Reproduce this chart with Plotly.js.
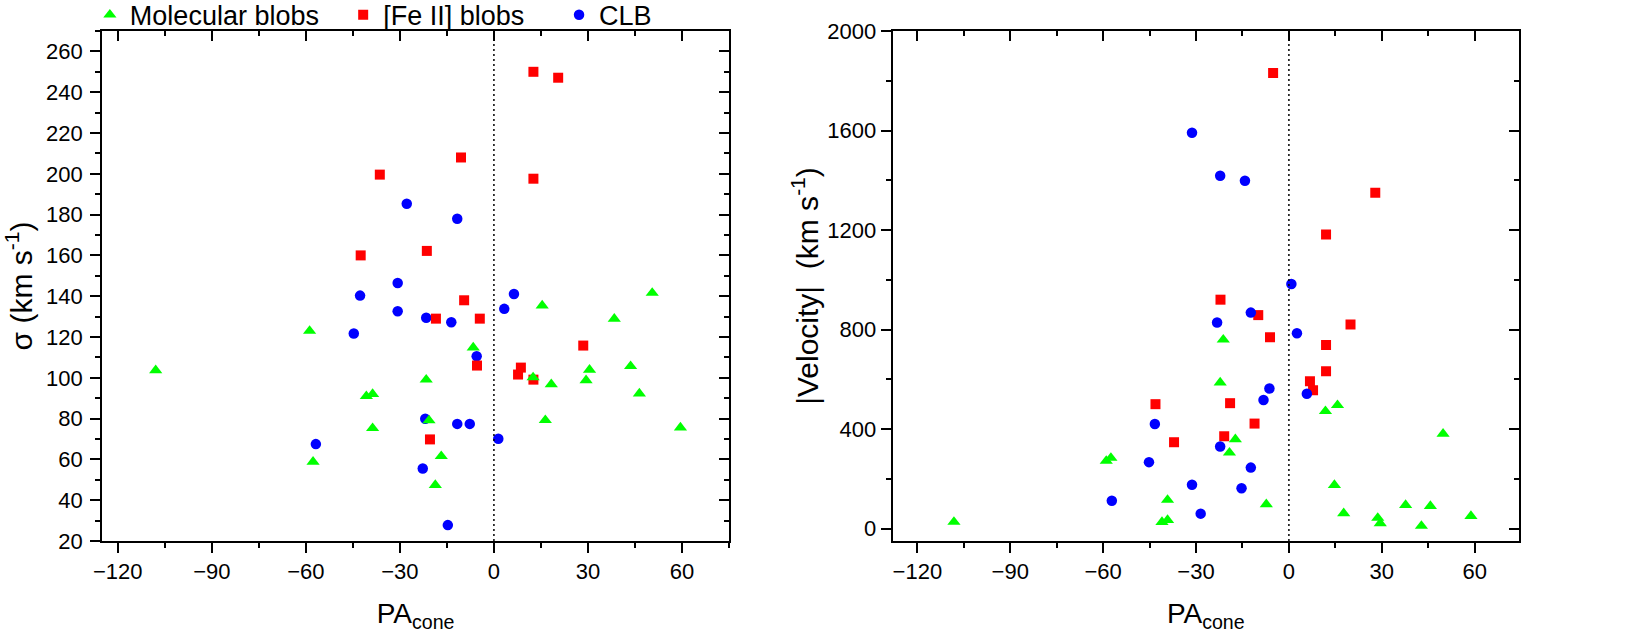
<!DOCTYPE html>
<html>
<head>
<meta charset="utf-8">
<script src="https://cdn.plot.ly/plotly-3.0.1.min.js"></script>
<style>
html, body { margin: 0; padding: 0; background: #fff; }
#chart { width: 1628px; height: 638px; }
</style>
</head>
<body>
<div id="chart"></div>
<script>
// left panel: sigma vs PA_cone
const molPaL = [-107.9, -58.8, -57.7, -40.7, -38.7, -38.7, -21.6, -20.7, -16.8, -18.7, -6.6, 12.5, 15.4, 16.4, 18.3, 29.4, 30.5, 38.4, 43.6, 46.4, 50.5, 59.5];
const molSigma = [103.7, 123, 58.8, 91, 92, 75.3, 99.1, 79.1, 61.6, 47.4, 114.8, 100.2, 135.4, 79.2, 96.8, 98.8, 103.9, 128.9, 105.7, 92.3, 141.6, 75.6];
const fePaL = [-36.4, -42.5, 12.6, 20.5, -10.5, 12.6, -21.4, -9.5, -18.5, -4.5, 28.5, -5.4, 8.6, 7.7, 12.6, -20.4];
const feSigma = [199.6, 160, 250, 247.1, 208, 197.6, 162.2, 138, 129, 129, 115.8, 106, 105, 101.6, 99.1, 69.8];
const clbPaL = [-27.8, -30.7, -42.7, -11.7, 6.4, -30.7, -44.7, -56.8, -21.6, -13.6, 3.3, -5.5, -21.9, -11.7, -7.7, 1.4, -22.7, -14.7];
const clbSigma = [185.3, 146.5, 140.3, 178, 141.1, 132.6, 121.7, 67.5, 129.4, 127.2, 133.8, 110.6, 79.9, 77.4, 77.4, 70.1, 55.5, 27.8];

// right panel: |velocity| vs PA_cone
const molPaR = [-108.2, -59.0, -57.5, -41.0, -39.2, -39.2, -22.2, -21.2, -19.2, -17.3, -7.3, 11.8, 14.7, 15.7, 17.7, 28.7, 29.5, 37.7, 42.8, 45.7, 49.8, 58.8];
const molVel = [26.5, 272, 284, 26, 34, 115, 587, 759, 305, 359, 97.5, 472, 175, 496, 61.4, 42.5, 21.3, 94.7, 10.4, 90.7, 381, 50.5];
const fePaR = [-43.1, -37.1, -22.1, -20.9, -19.0, -11.1, -9.9, -6.1, -5.1, 6.8, 7.8, 12.0, 12.0, 12.0, 19.9, 27.9];
const feVel = [500, 347, 920, 371, 504, 422, 858, 769, 1831, 592, 556, 1182, 738, 632, 820, 1350];
const clbPaR = [-57.2, -45.2, -43.3, -31.3, -31.3, -28.5, -23.2, -22.2, -22.2, -15.3, -14.2, -12.3, -12.3, -8.2, -6.3, 0.8, 2.6, 5.8];
const clbVel = [112, 267, 420, 1591, 176, 60, 828, 1418, 330, 162, 1398, 868, 245, 517, 563, 983, 785, 542];

const seriesNames = ['Molecular blobs', '[Fe II] blobs', 'CLB'];

const FONT = 'Liberation Sans, Arial, sans-serif';
const GREEN = '#00ff00', RED = '#ff0000', BLUE = '#0000ff';

const pts = (x, y, xa, ya, color, symbol, size, name, legend) => ({
    type: 'scatter',
    mode: 'markers',
    x, y,
    xaxis: xa, yaxis: ya,
    name,
    legend,
    showlegend: !!legend,
    marker: { color, symbol, size, line: { width: 0 } },
    hoverinfo: 'x+y',
});

// empty traces so the mirror (top/right) axes get drawn
const frame = (xa, ya) => ({ type: 'scatter', mode: 'markers', x: [], y: [], xaxis: xa, yaxis: ya, showlegend: false, hoverinfo: 'skip' });

const traces = [
    pts(clbPaL, clbSigma, 'x', 'y', BLUE, 'circle', 10.5, seriesNames[2], 'legend3'),
    pts(fePaL, feSigma, 'x', 'y', RED, 'square', 10, seriesNames[1], 'legend2'),
    pts(molPaL, molSigma, 'x', 'y', GREEN, 'triangle-up', 11.5, seriesNames[0], 'legend'),
    pts(fePaR, feVel, 'x2', 'y2', RED, 'square', 10, seriesNames[1]),
    pts(clbPaR, clbVel, 'x2', 'y2', BLUE, 'circle', 10.5, seriesNames[2]),
    pts(molPaR, molVel, 'x2', 'y2', GREEN, 'triangle-up', 11.5, seriesNames[0]),
    frame('x3', 'y3'),
    frame('x4', 'y4'),
];

const tickFont = { family: FONT, size: 22, color: '#000' };
const titleFont = { family: FONT, size: 28, color: '#000' };
const yTitleFont = { family: FONT, size: 30, color: '#000' };

const baseAxis = {
    showgrid: false,
    zeroline: false,
    showline: true,
    linecolor: '#000',
    linewidth: 2,
    ticks: 'outside',
    ticklen: 10,
    tickwidth: 2,
    tickcolor: '#000',
    tickfont: tickFont,
};

const xBottom = (domain, range, anchor) => Object.assign({}, baseAxis, {
    domain, range, anchor,
    tick0: 0, dtick: 30,
    ticklabelstandoff: 0,
    minor: { dtick: 15, tick0: 0, ticks: 'outside', ticklen: 5, tickwidth: 2, tickcolor: '#000' },
    title: { text: 'PA<sub>cone</sub>', font: titleFont, standoff: 20 },
});

const mirrorAxis = (over, side, anchor, range, tick0, dtick, minorDtick) => ({
    overlaying: over, side, anchor, range,
    showgrid: false, zeroline: false, showline: true,
    linecolor: '#000', linewidth: 2,
    ticks: 'inside', ticklen: 10, tickwidth: 2, tickcolor: '#000',
    showticklabels: false,
    tick0, dtick,
    minor: { dtick: minorDtick, tick0, ticks: 'inside', ticklen: 5, tickwidth: 2, tickcolor: '#000' },
});

const xRangeL = [-125, 75];
const xRangeR = [-128, 74.3];
const sigmaRange = [20, 270];
const velRange = [-50, 2000];

const legendBase = {
    orientation: 'h',
    y: 1.031, yanchor: 'middle', xanchor: 'left',
    font: { family: FONT, size: 27, color: '#000' },
    bgcolor: 'rgba(0,0,0,0)',
};

const layout = {
    width: 1628,
    height: 638,
    margin: { l: 0, r: 0, t: 31, b: 97, autoexpand: false },
    paper_bgcolor: '#fff',
    plot_bgcolor: '#fff',
    font: { family: FONT, color: '#000' },
    xaxis: xBottom([0.0627, 0.4478], xRangeL, 'y'),
    yaxis: Object.assign({}, baseAxis, {
        domain: [0, 1], range: sigmaRange, anchor: 'x',
        tick0: 20, dtick: 20,
        ticklabelstandoff: 3,
        minor: { dtick: 10, tick0: 20, ticks: 'outside', ticklen: 5, tickwidth: 2, tickcolor: '#000' },
        title: { text: 'σ (km s<sup>-1</sup>)', font: yTitleFont, standoff: 8 },
    }),
    xaxis2: xBottom([0.5483, 0.9330], xRangeR, 'y2'),
    yaxis2: Object.assign({}, baseAxis, {
        domain: [0, 1], range: velRange, anchor: 'x2',
        tick0: 0, dtick: 400,
        ticklabelstandoff: 0,
        minor: { dtick: 200, tick0: 0, ticks: 'outside', ticklen: 5, tickwidth: 2, tickcolor: '#000' },
        title: { text: '|Velocity|  (km s<sup>-1</sup>)', font: yTitleFont, standoff: 0 },
    }),
    xaxis3: mirrorAxis('x', 'top', 'y3', xRangeL, 0, 30, 15),
    yaxis3: mirrorAxis('y', 'right', 'x3', sigmaRange, 20, 20, 10),
    xaxis4: mirrorAxis('x2', 'top', 'y4', xRangeR, 0, 30, 15),
    yaxis4: mirrorAxis('y2', 'right', 'x4', velRange, 0, 400, 200),
    shapes: [
        { type: 'line', xref: 'x', yref: 'y domain', x0: 0, x1: 0, y0: 0, y1: 1,
          line: { color: '#000', width: 1.5, dash: '2px,3px' } },
        { type: 'line', xref: 'x2', yref: 'y2 domain', x0: 0, x1: 0, y0: 0, y1: 1,
          line: { color: '#000', width: 1.5, dash: '2px,3px' } },
    ],
    legend: Object.assign({}, legendBase, { x: 0.0552 }),
    legend2: Object.assign({}, legendBase, { x: 0.2108 }),
    legend3: Object.assign({}, legendBase, { x: 0.3434 }),
};

Plotly.newPlot('chart', traces, layout, { staticPlot: true, displayModeBar: false });
</script>
</body>
</html>
